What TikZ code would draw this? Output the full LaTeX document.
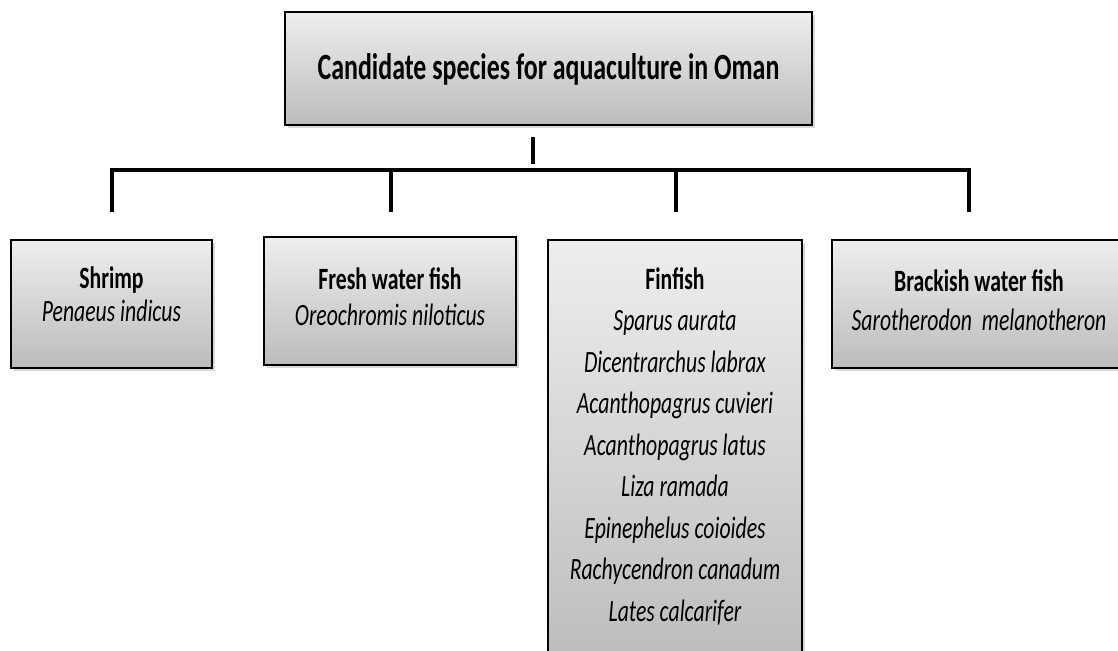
\documentclass[tikz,border=0pt]{standalone}
\usepackage{fontspec}
\setmainfont{Carlito}[FakeStretch=0.7]
\usetikzlibrary{shadows}
\definecolor{boxtop}{RGB}{238,238,238}
\definecolor{boxbottom}{RGB}{188,188,188}
\tikzset{
  spbox/.style={draw=black, line width=2pt, top color=boxtop, bottom color=boxbottom,
    drop shadow={opacity=0.3, shadow xshift=3pt, shadow yshift=-3pt}, inner sep=0pt},
  head/.style={font=\bfseries\fontsize{31}{34}\selectfont, anchor=base},
  latin/.style={font=\itshape\fontsize{31}{34}\selectfont, anchor=base},
  link/.style={line width=4pt},
}
\begin{document}
\begin{tikzpicture}[x=1pt, y=-1pt]
	\useasboundingbox (0,0) rectangle (1118,650);
	\clip (0,0) rectangle (1118,650);
	% boxes
	\node[spbox, minimum width=527pt, minimum height=113pt] (top) at (548.5,68.5) {};
	\node[spbox, minimum width=201pt, minimum height=128pt] (shrimp) at (111.5,304) {};
	\node[spbox, minimum width=252pt, minimum height=128pt] (fresh) at (390,301) {};
	\node[spbox, minimum width=254pt, minimum height=425pt] (finfish) at (675,452.5) {};
	\node[spbox, minimum width=298pt, minimum height=128pt] (brackish) at (981,304) {};
	% texts
	\node[head, font=\bfseries\fontsize{37}{40}\selectfont] (title) at (548.5,80) {Candidate species for aquaculture in Oman};
	\node[head] (shrimphd) at (111.5,288) {Shrimp};
	\node[latin] (shrimpsp) at (111.5,321) {Penaeus indicus};
	\node[head] (freshhd) at (390,289) {Fresh water fish};
	\node[latin] (freshsp) at (390,325) {Oreochromis niloticus};
	\node[head] (finhd) at (675,289) {Finfish};
	\foreach \name [count=\i] in {Sparus aurata, Dicentrarchus labrax, Acanthopagrus cuvieri,
	  Acanthopagrus latus, Liza ramada, Epinephelus coioides, Rachycendron canadum, Lates calcarifer}{
	\node[latin] (fin\i) at (675,{289+41.5*\i}) {\name};
	}
	\node[head] (brackhd) at (979,291) {Brackish water fish};
	\node[latin] (bracksp) at (979,330) {Sarotherodon~ melanotheron};
	% connectors
	\coordinate (stubtop) at (533,137);
	\coordinate (stubend) at (533,164);
	\draw[link] (stubtop) -- (stubend);
	\foreach \x [count=\i] in {112,391,676,969}{
	\coordinate (up\i) at (\x,170);
	\coordinate (dn\i) at (\x,212);
	}
	\draw[link] (dn1) -- (up1) -- (up4) -- (dn4);
	\draw[link] (up2) -- (dn2);
	\draw[link] (up3) -- (dn3);
\end{tikzpicture}
\end{document}
